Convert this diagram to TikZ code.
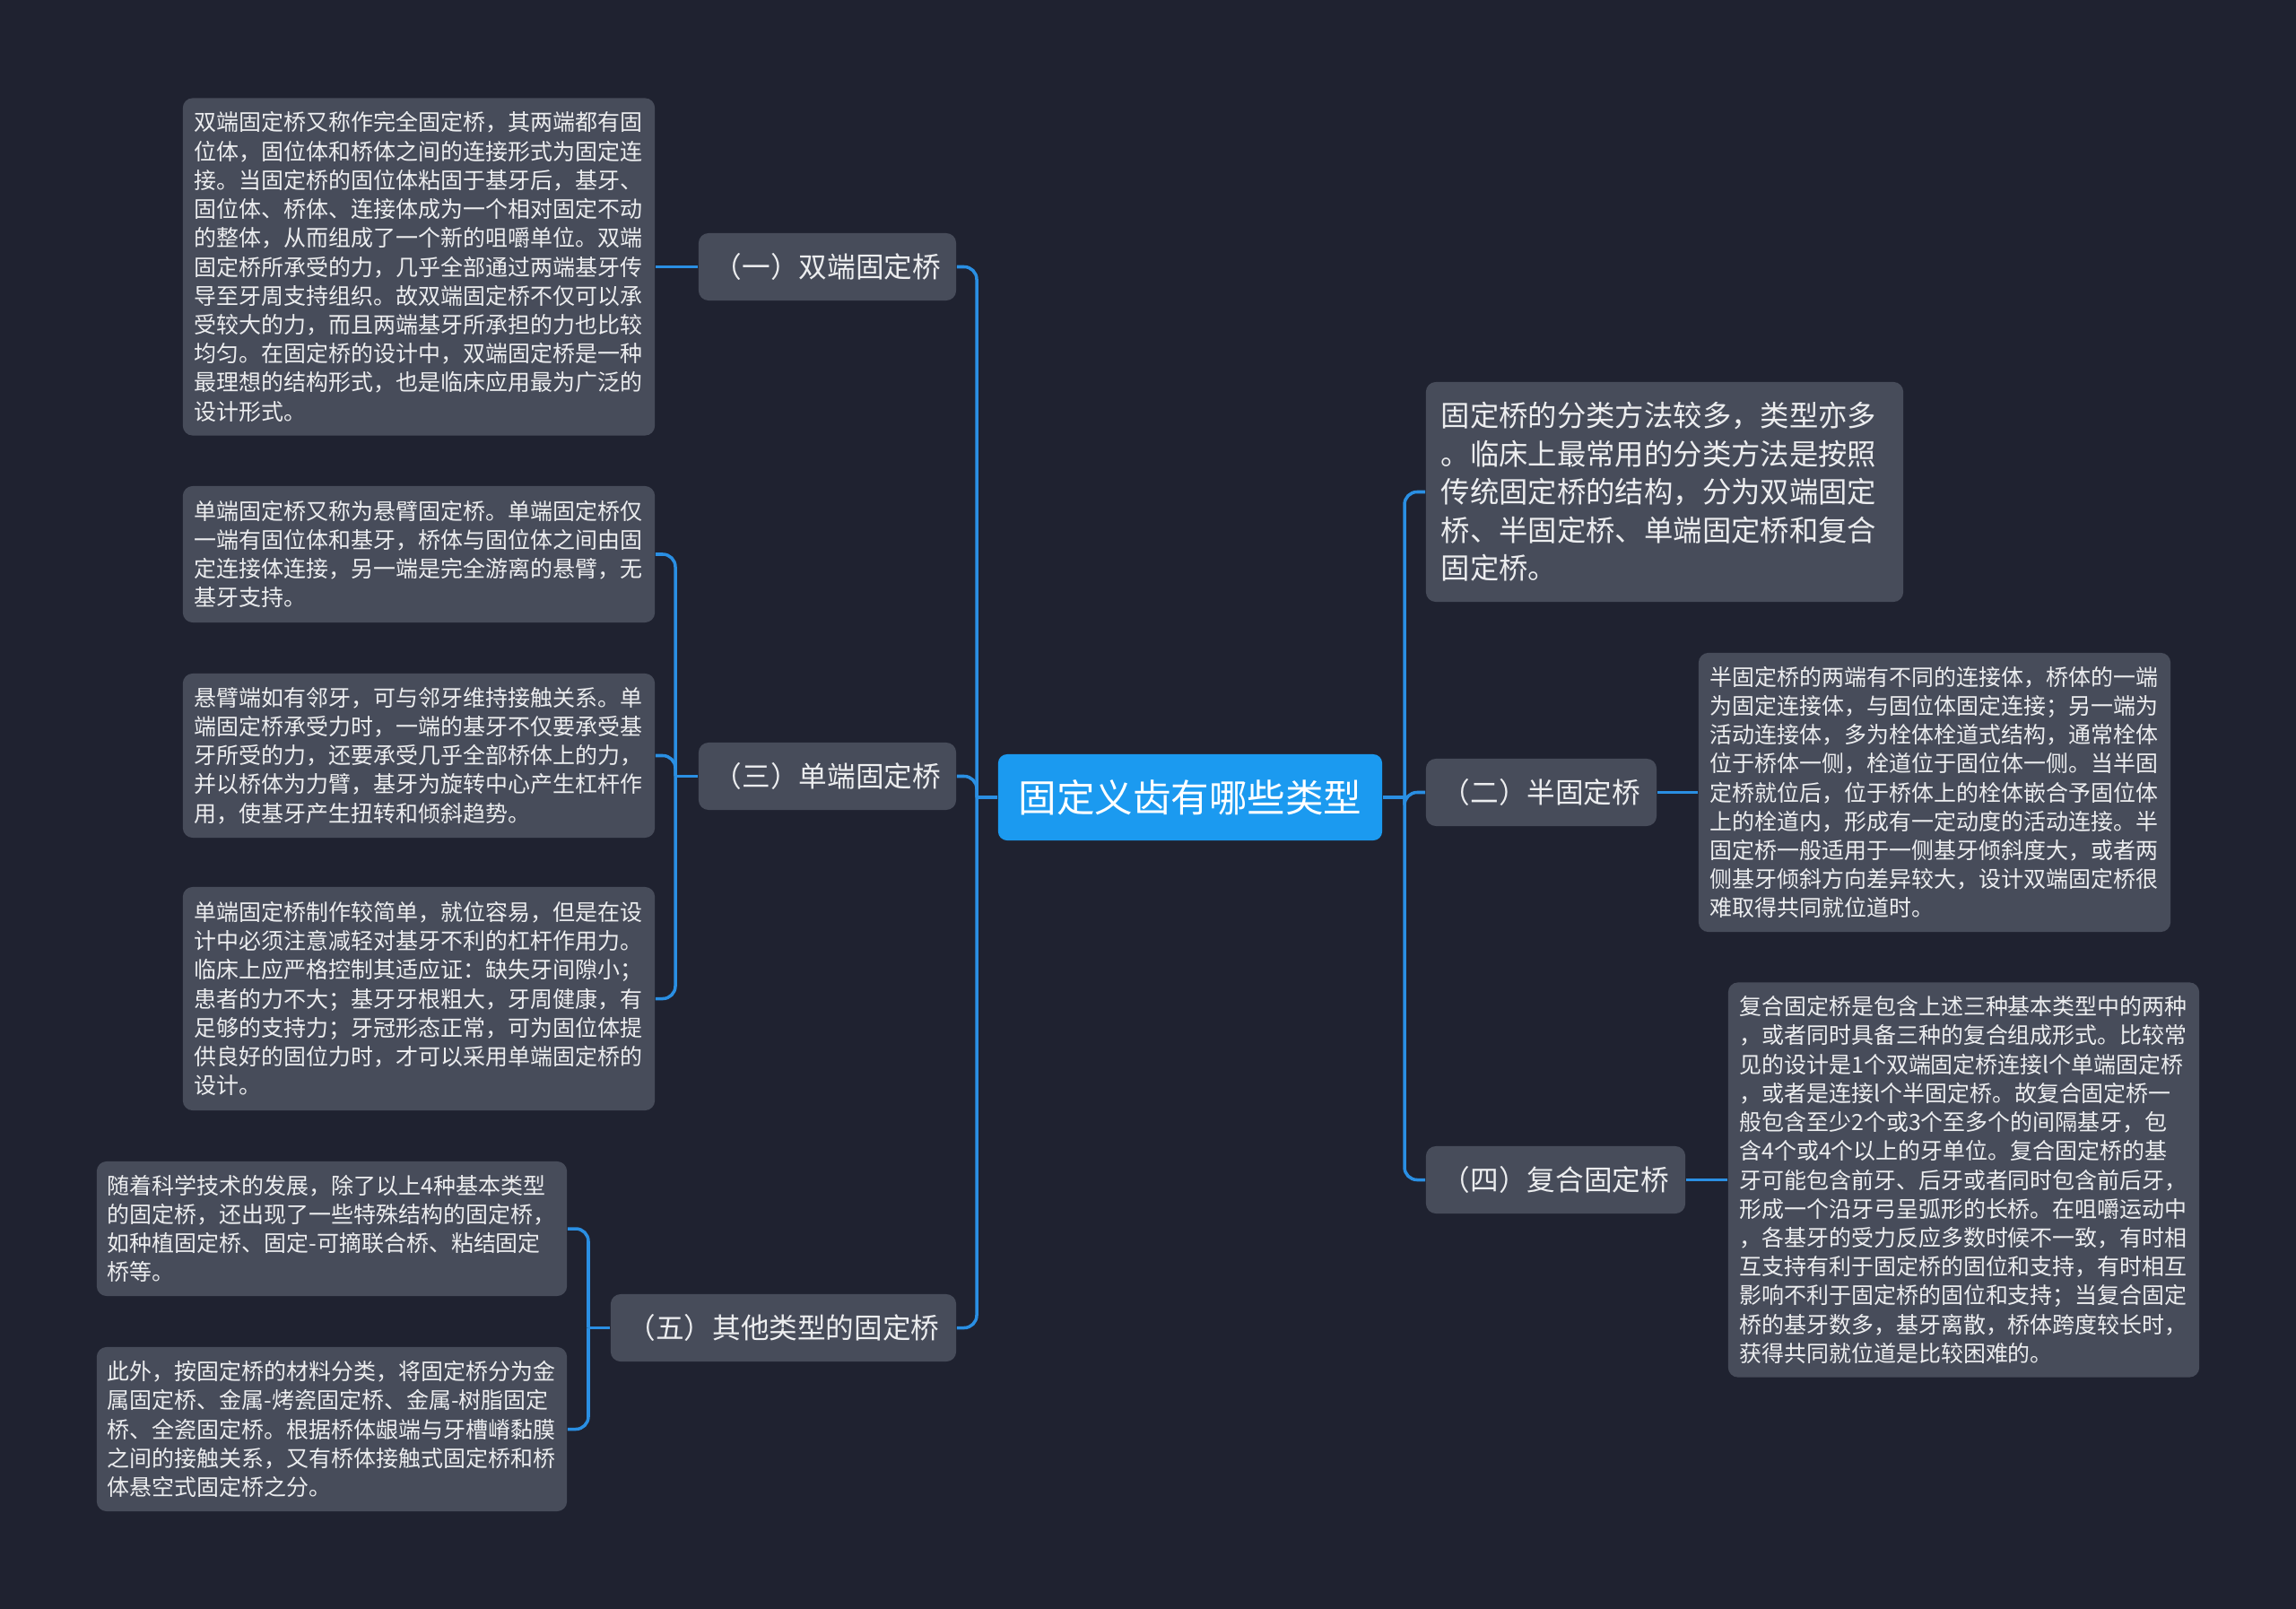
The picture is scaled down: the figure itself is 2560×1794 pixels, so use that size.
\documentclass[tikz,border=0pt]{standalone}
\usepackage{fontspec}
\setmainfont{Noto Sans CJK SC}
\definecolor{bgc}{HTML}{1F2230}
\definecolor{boxc}{HTML}{474C5A}
\definecolor{mainc}{HTML}{1B9AF0}
\definecolor{linec}{HTML}{2A8FE3}
\definecolor{txtc}{HTML}{ECEDEF}
\tikzset{
  base/.style={rectangle, rounded corners=0.11cm, inner sep=0pt, text=txtc},
  leaf/.style={base, fill=boxc, align=left, text width=5.0cm,
    font=\fontsize{7.1pt}{9.16pt}\selectfont},
  branch/.style={base, fill=boxc, align=center, font=\fontsize{9pt}{11pt}\selectfont},
  topic/.style={base, fill=mainc, text=white, align=center, rounded corners=0.1cm,
    font=\fontsize{12.1pt}{14pt}\selectfont},
  conn/.style={draw=linec, line width=1pt, rounded corners=0.14cm}
}
\begin{document}
\begin{tikzpicture}[x=0.01cm,y=-0.01cm]
\useasboundingbox (0,0) rectangle (2560,1794);
\fill[bgc] (0,0) rectangle (2560,1794);

% center
\node[topic, minimum width=4.28cm, minimum height=0.96cm] (c) at (1327,889) {固定义齿有哪些类型};

% left branches
\node[branch, minimum width=2.87cm, minimum height=0.75cm] (b1) at (922.5,297.5) {（一）双端固定桥};
\node[branch, minimum width=2.87cm, minimum height=0.75cm] (b3) at (922.5,865.5) {（三）单端固定桥};
\node[branch, minimum width=3.85cm, minimum height=0.75cm] (b5) at (873.5,1480.5) {（五）其他类型的固定桥};

% right branches
\node[base, fill=boxc, align=left, text width=4.98cm, minimum width=5.32cm, minimum height=2.45cm,
  font=\fontsize{9.2pt}{12.1pt}\selectfont] (t0) at (1856,548.5) {固定桥的分类方法较多，类型亦多\\。临床上最常用的分类方法是按照\\传统固定桥的结构，分为双端固定\\桥、半固定桥、单端固定桥和复合\\固定桥。};
\node[branch, minimum width=2.57cm, minimum height=0.75cm] (b2) at (1718.5,883.5) {（二）半固定桥};
\node[branch, minimum width=2.89cm, minimum height=0.75cm] (b4) at (1734.5,1315.5) {（四）复合固定桥};

% left leaves
\node[leaf, minimum width=5.26cm, minimum height=3.76cm] (l1) at (467,297.5) {双端固定桥又称作完全固定桥，其两端都有固\\位体，固位体和桥体之间的连接形式为固定连\\接。当固定桥的固位体粘固于基牙后，基牙、\\固位体、桥体、连接体成为一个相对固定不动\\的整体，从而组成了一个新的咀嚼单位。双端\\固定桥所承受的力，几乎全部通过两端基牙传\\导至牙周支持组织。故双端固定桥不仅可以承\\受较大的力，而且两端基牙所承担的力也比较\\均匀。在固定桥的设计中，双端固定桥是一种\\最理想的结构形式，也是临床应用最为广泛的\\设计形式。};
\node[leaf, minimum width=5.26cm, minimum height=1.52cm] (l2) at (467,618) {单端固定桥又称为悬臂固定桥。单端固定桥仅\\一端有固位体和基牙，桥体与固位体之间由固\\定连接体连接，另一端是完全游离的悬臂，无\\基牙支持。};
\node[leaf, minimum width=5.26cm, minimum height=1.83cm] (l3) at (467,842.5) {悬臂端如有邻牙，可与邻牙维持接触关系。单\\端固定桥承受力时，一端的基牙不仅要承受基\\牙所受的力，还要承受几乎全部桥体上的力，\\并以桥体为力臂，基牙为旋转中心产生杠杆作\\用，使基牙产生扭转和倾斜趋势。};
\node[leaf, minimum width=5.26cm, minimum height=2.49cm] (l4) at (467,1113.5) {单端固定桥制作较简单，就位容易，但是在设\\计中必须注意减轻对基牙不利的杠杆作用力。\\临床上应严格控制其适应证：缺失牙间隙小；\\患者的力不大；基牙牙根粗大，牙周健康，有\\足够的支持力；牙冠形态正常，可为固位体提\\供良好的固位力时，才可以采用单端固定桥的\\设计。};
\node[leaf, minimum width=5.24cm, minimum height=1.50cm] (l5) at (370,1370) {随着科学技术的发展，除了以上4种基本类型\\的固定桥，还出现了一些特殊结构的固定桥，\\如种植固定桥、固定-可摘联合桥、粘结固定\\桥等。};
\node[leaf, minimum width=5.24cm, minimum height=1.83cm] (l6) at (370,1593.5) {此外，按固定桥的材料分类，将固定桥分为金\\属固定桥、金属-烤瓷固定桥、金属-树脂固定\\桥、全瓷固定桥。根据桥体龈端与牙槽嵴黏膜\\之间的接触关系，又有桥体接触式固定桥和桥\\体悬空式固定桥之分。};

% right leaves
\node[leaf, minimum width=5.26cm, minimum height=3.11cm] (r1) at (2157,883.5) {半固定桥的两端有不同的连接体，桥体的一端\\为固定连接体，与固位体固定连接；另一端为\\活动连接体，多为栓体栓道式结构，通常栓体\\位于桥体一侧，栓道位于固位体一侧。当半固\\定桥就位后，位于桥体上的栓体嵌合予固位体\\上的栓道内，形成有一定动度的活动连接。半\\固定桥一般适用于一侧基牙倾斜度大，或者两\\侧基牙倾斜方向差异较大，设计双端固定桥很\\难取得共同就位道时。};
\node[leaf, minimum width=5.25cm, minimum height=4.40cm] (r2) at (2189.5,1315.5) {复合固定桥是包含上述三种基本类型中的两种\\，或者同时具备三种的复合组成形式。比较常\\见的设计是1个双端固定桥连接l个单端固定桥\\，或者是连接l个半固定桥。故复合固定桥一\\般包含至少2个或3个至多个的间隔基牙，包\\含4个或4个以上的牙单位。复合固定桥的基\\牙可能包含前牙、后牙或者同时包含前后牙，\\形成一个沿牙弓呈弧形的长桥。在咀嚼运动中\\，各基牙的受力反应多数时候不一致，有时相\\互支持有利于固定桥的固位和支持，有时相互\\影响不利于固定桥的固位和支持；当复合固定\\桥的基牙数多，基牙离散，桥体跨度较长时，\\获得共同就位道是比较困难的。};

% junctions
\coordinate (jL) at (1089,889);
\coordinate (jR) at (1566,889);
\coordinate (j3) at (753,865.5);
\coordinate (j5) at (656,1480.5);

% connectors center
\draw[conn] (c.west) -- (jL);
\draw[conn] (jL) |- (b1.east);
\draw[conn] (jL) |- (b3.east);
\draw[conn] (jL) |- (b5.east);
\draw[conn] (c.east) -- (jR);
\draw[conn] (jR) |- (t0.west);
\draw[conn] (jR) |- (b2.west);
\draw[conn] (jR) |- (b4.west);

% sub connectors
\draw[conn] (b1.west) -- (l1.east);
\draw[conn] (b3.west) -- (j3);
\draw[conn] (j3) |- (l2.east);
\draw[conn] (j3) |- (l3.east);
\draw[conn] (j3) |- (l4.east);
\draw[conn] (b5.west) -- (j5);
\draw[conn] (j5) |- (l5.east);
\draw[conn] (j5) |- (l6.east);
\draw[conn] (b2.east) -- (r1.west);
\draw[conn] (b4.east) -- (r2.west);
\end{tikzpicture}
\end{document}
